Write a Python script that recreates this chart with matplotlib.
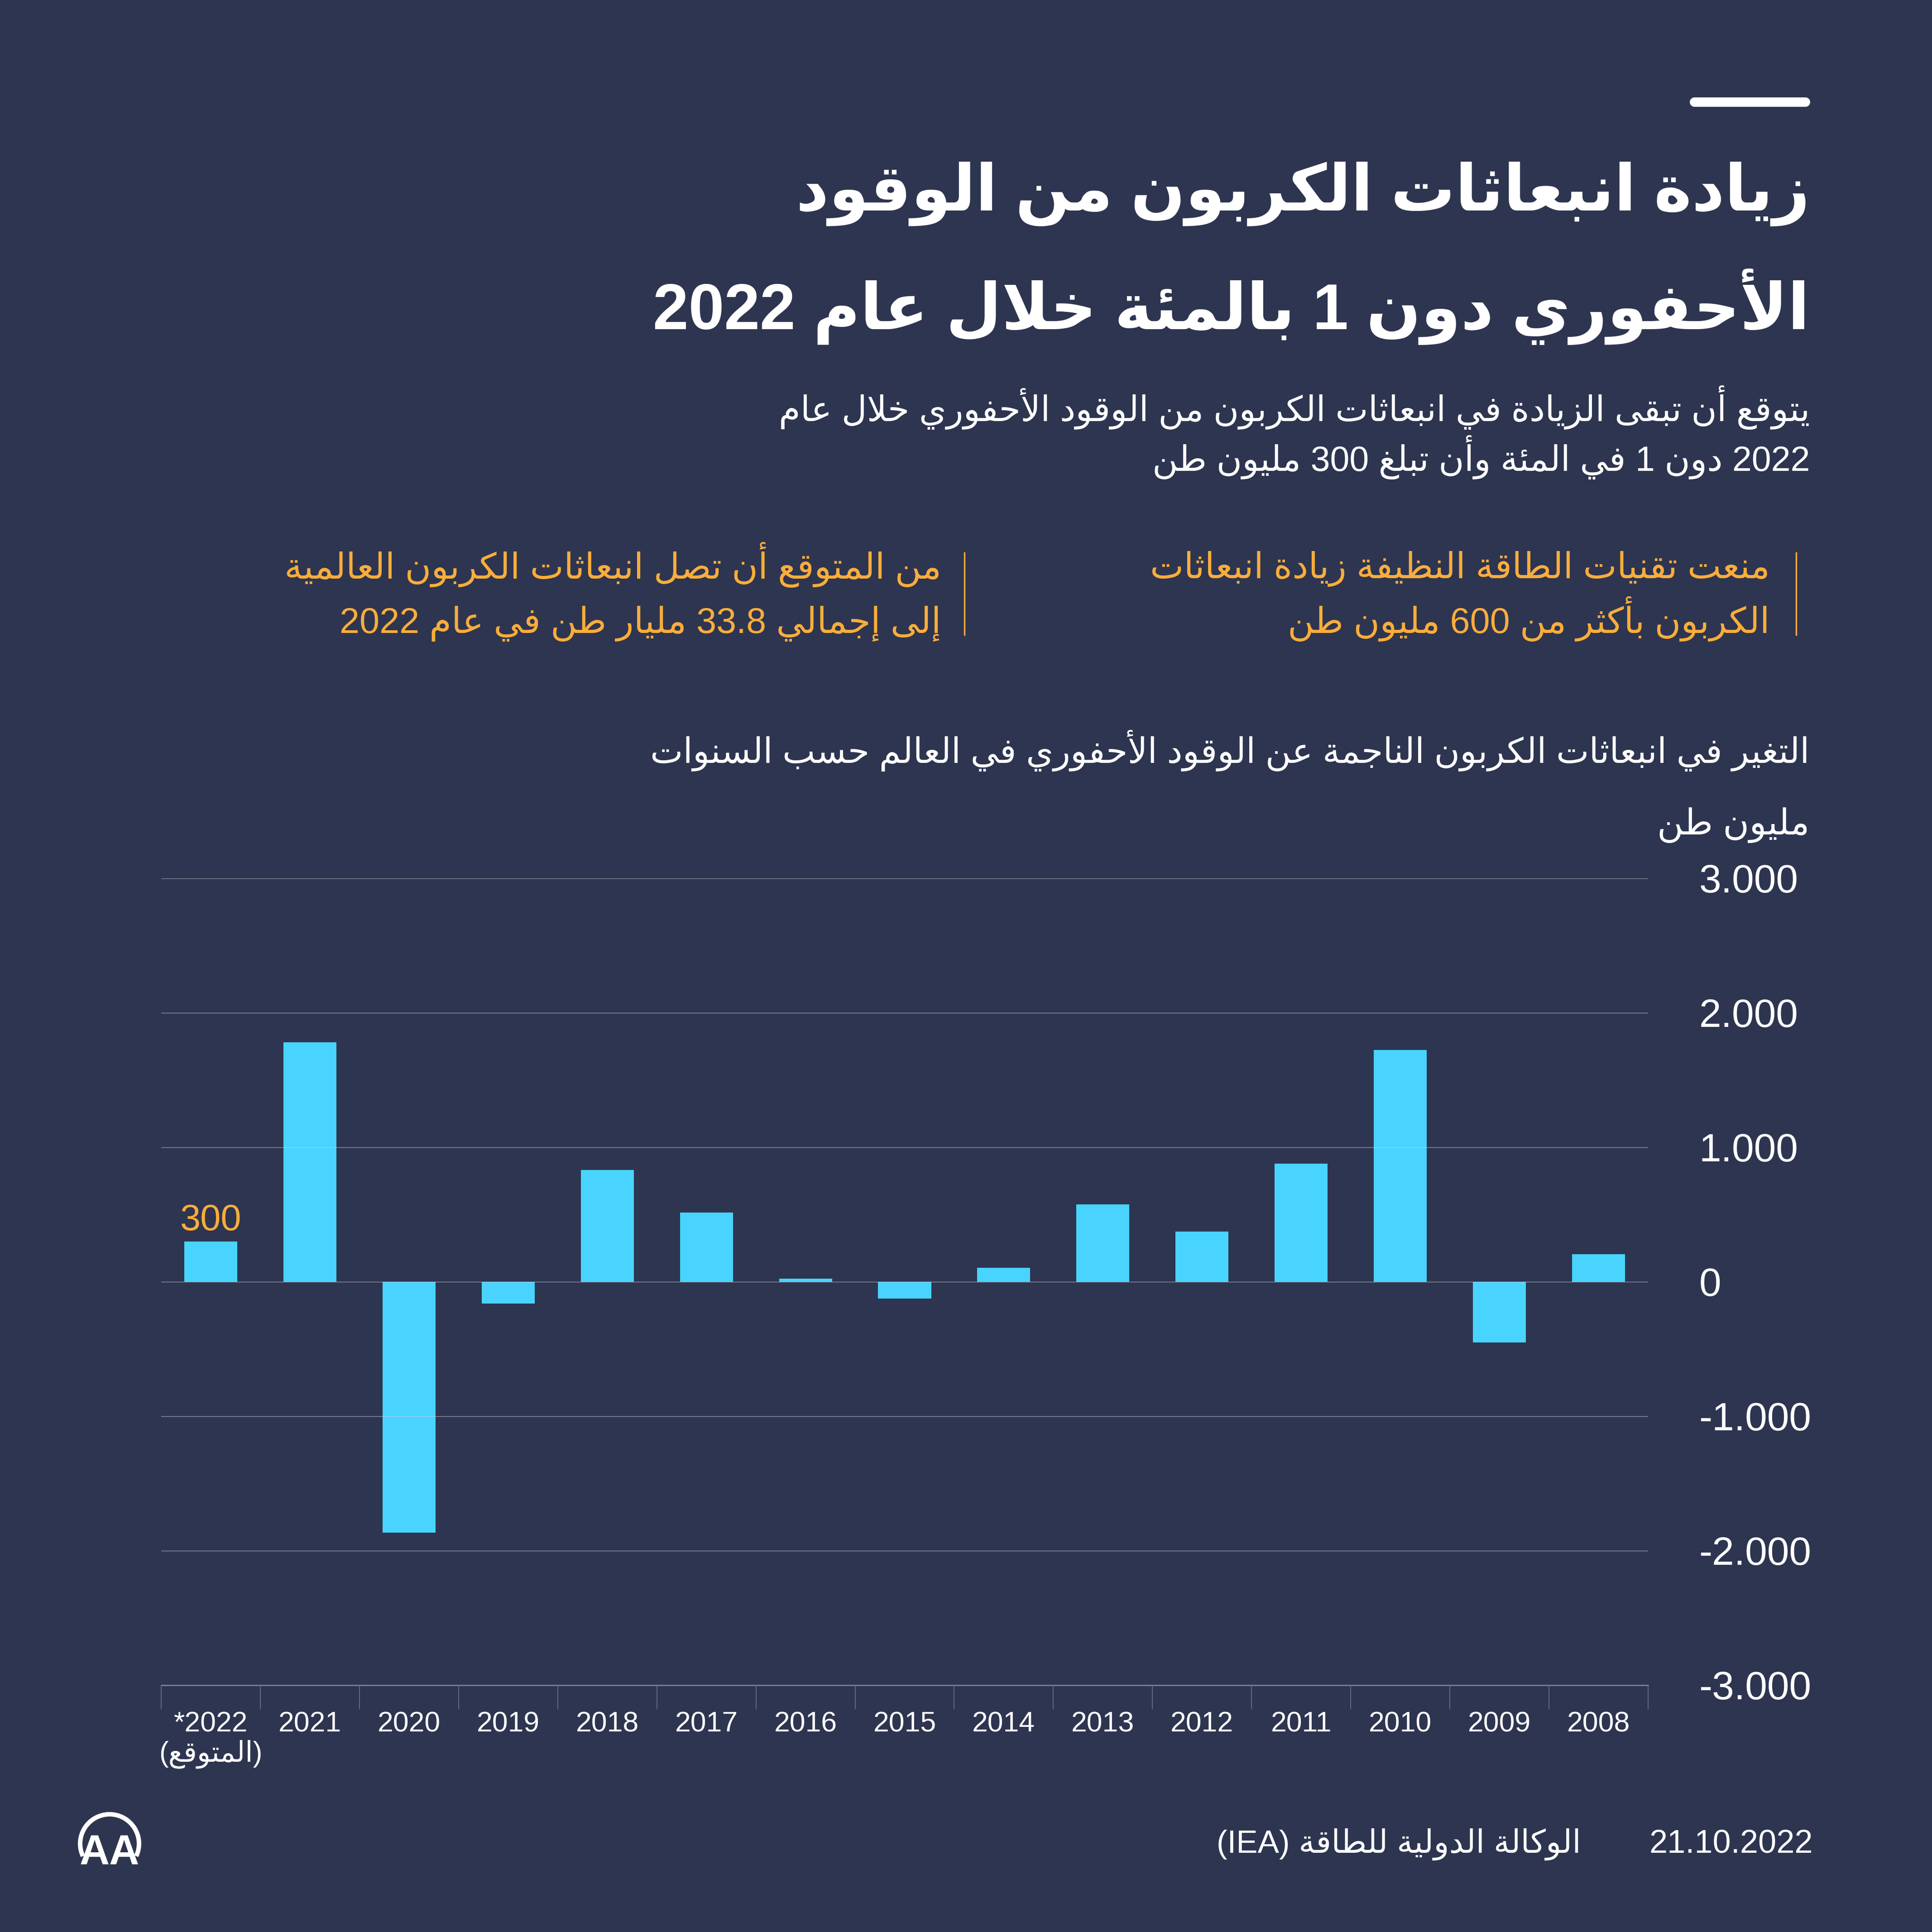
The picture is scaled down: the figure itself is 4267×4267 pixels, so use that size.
import re
import numpy as np
import matplotlib
matplotlib.use("Agg")
import matplotlib.pyplot as plt
from matplotlib.lines import Line2D
from matplotlib.patches import Arc

# chart data (million tonnes CO2, change vs previous year)
years = ["*2022", "2021", "2020", "2019", "2018", "2017", "2016", "2015",
         "2014", "2013", "2012", "2011", "2010", "2009", "2008"]
changes = [300, 1780, -1865, -160, 830, 515, 25, -125,
           105, 575, 375, 880, 1725, -450, 205]
yticks = [-3000, -2000, -1000, 0, 1000, 2000, 3000]
ytick_labels = ["-3.000", "-2.000", "-1.000", "0", "1.000", "2.000", "3.000"]

title_lines = ["زيادة انبعاثات الكربون من الوقود",
               "الأحفوري دون 1 بالمئة خلال عام 2022"]
subtitle_lines = ["يتوقع أن تبقى الزيادة في انبعاثات الكربون من الوقود الأحفوري خلال عام",
                  "2022 دون 1 في المئة وأن تبلغ 300 مليون طن"]
note_right = ["منعت تقنيات الطاقة النظيفة زيادة انبعاثات",
              "الكربون بأكثر من 600 مليون طن"]
note_left = ["من المتوقع أن تصل انبعاثات الكربون العالمية",
             "إلى إجمالي 33.8 مليار طن في عام 2022"]
chart_title = "التغير في انبعاثات الكربون الناجمة عن الوقود الأحفوري في العالم حسب السنوات"
unit_label = "مليون طن"
forecast_label = "(المتوقع)"
highlight = "300"
source = "الوكالة الدولية للطاقة (IEA)"
date = "21.10.2022"

BG = "#2e3550"
BAR = "#48d4fe"
ORANGE = "#f9ad3b"
WHITE = "#ffffff"

# --- tiny arabic shaper (matplotlib has no text shaping / bidi) ---
letters = "ءآأؤإئابةتثجحخدذرزسشصضطظعغفقكلمنهوىي"
counts = [1, 2, 2, 2, 2, 4, 2, 4, 2, 4, 4, 4, 4, 4, 2, 2, 2, 2,
          4, 4, 4, 4, 4, 4, 4, 4, 4, 4, 4, 4, 4, 4, 4, 2, 2, 4]
FORMS = {}
cp = 0xFE80
for ch, n in zip(letters, counts):
    FORMS[ch] = tuple(range(cp, cp + n))
    cp += n
LAM_ALEF = {"آ": 0xFEF5, "أ": 0xFEF7, "إ": 0xFEF9, "ا": 0xFEFB}


def jtype(t):
    if isinstance(t, tuple):
        return "R"
    return {4: "D", 2: "R"}.get(len(FORMS.get(t, ())))


def shape_ar(text):
    toks = []
    i = 0
    while i < len(text):
        if text[i] == "ل" and i + 1 < len(text) and text[i + 1] in LAM_ALEF:
            toks.append(("LA", text[i + 1]))
            i += 2
        else:
            toks.append(text[i])
            i += 1
    out = []
    for k, t in enumerate(toks):
        prev_j = k > 0 and jtype(toks[k - 1]) == "D"
        if isinstance(t, tuple):
            out.append(chr(LAM_ALEF[t[1]] + (1 if prev_j else 0)))
            continue
        jt = jtype(t)
        if jt is None:
            out.append(t)
            continue
        next_j = jt == "D" and k + 1 < len(toks) and jtype(toks[k + 1]) in ("D", "R")
        f = FORMS[t]
        if prev_j and next_j:
            out.append(chr(f[3]))
        elif prev_j:
            out.append(chr(f[1]))
        elif next_j:
            out.append(chr(f[2]))
        else:
            out.append(chr(f[0]))
    return "".join(out)


LTR = re.compile(r"([0-9A-Za-z]+(?:[.,][0-9A-Za-z]+)*)")
MIRROR = str.maketrans("()", ")(")


def ar(text):
    parts = LTR.split(shape_ar(text))
    toks = [p if j % 2 else p[::-1].translate(MIRROR) for j, p in enumerate(parts)]
    return "".join(reversed(toks))


FONT = ["Liberation Sans", "DejaVu Sans"]
W = 4267
DPI = 300


def fx(px):
    return px / W


def fy(px):
    return 1 - px / W


fig = plt.figure(figsize=(W / DPI, W / DPI), dpi=DPI, facecolor=BG)

# header
fig.add_artist(Line2D([fx(3742), fx(3987)], [fy(225), fy(225)], lw=5, color=WHITE,
                      solid_capstyle="round", transform=fig.transFigure))
for line, base in zip(title_lines, [465, 727]):
    fig.text(fx(3997), fy(base), ar(line), ha="right", va="baseline", color=WHITE,
             fontsize=34, fontweight="bold", family=FONT)
for line, base in zip(subtitle_lines, [930, 1040]):
    fig.text(fx(3997), fy(base), ar(line), ha="right", va="baseline", color=WHITE,
             fontsize=18.5, family=FONT)

# two orange notes with a bar on their right
for lines, xtext, xbar in [(note_right, 3909, 3967), (note_left, 2079, 2130)]:
    fig.add_artist(Line2D([fx(xbar), fx(xbar)], [fy(1221), fy(1402)], lw=0.8,
                          color=ORANGE, transform=fig.transFigure))
    for line, base in zip(lines, [1277, 1398]):
        fig.text(fx(xtext), fy(base), ar(line), ha="right", va="baseline",
                 color=ORANGE, fontsize=19, family=FONT)

fig.text(fx(3997), fy(1685), ar(chart_title), ha="right", va="baseline",
         color=WHITE, fontsize=18.5, family=FONT)
fig.text(fx(3997), fy(1843), ar(unit_label), ha="right", va="baseline",
         color=WHITE, fontsize=19, family=FONT)

# bar chart
ax = fig.add_axes([fx(356), fy(3722), fx(3640 - 356), (3722 - 1940) / W])
ax.set_facecolor(BG)
x = np.arange(len(years))
ax.bar(x, changes, width=0.535, color=BAR, zorder=2)
ax.set_xlim(-0.5, len(years) - 0.5)
ax.set_ylim(yticks[0], yticks[-1])
ax.set_yticks(yticks)
ax.set_yticklabels(ytick_labels)
ax.yaxis.tick_right()
ax.tick_params(axis="y", length=0, pad=27, labelsize=21, labelcolor=WHITE)
ax.grid(axis="y", color="#d0d2d8", alpha=0.6, linewidth=0.35, zorder=3)
ax.set_axisbelow(False)
for s in ["top", "left", "right"]:
    ax.spines[s].set_visible(False)
ax.spines["bottom"].set_color("#80859a")
ax.spines["bottom"].set_linewidth(0.6)

labels = list(years)
labels[0] = years[0] + "\n" + ar(forecast_label)
ax.set_xticks(x)
ax.set_xticklabels(labels, linespacing=1.1)
ax.set_xticks(np.arange(-0.5, len(years), 1), minor=True)
ax.tick_params(axis="x", which="major", length=0, pad=13.5, labelsize=15,
               labelcolor=WHITE)
ax.tick_params(axis="x", which="minor", length=12.7, width=0.4, color="#6e7488")
for lab in ax.get_xticklabels() + ax.get_yticklabels():
    lab.set_family(FONT)

ax.annotate(highlight, xy=(0, changes[0]), xytext=(0, 6), textcoords="offset points",
            ha="center", va="baseline", color=ORANGE, fontsize=19.5, family=FONT)

# footer
fig.text(fx(4004), fy(4092), date, ha="right", va="baseline", color=WHITE,
         fontsize=17.3, family=FONT)
fig.text(fx(3492), fy(4092), ar(source), ha="right", va="baseline", color=WHITE,
         fontsize=17, family=FONT)
fig.add_artist(Arc((fx(242), fy(4072)), 130 / W, 130 / W, theta1=-25, theta2=205,
                   lw=2.4, color=WHITE, transform=fig.transFigure))
fig.text(fx(242), fy(4118), "AA", ha="center", va="baseline", color=WHITE,
         fontsize=22, fontweight="bold", family=FONT)

fig.savefig("out.png", dpi=DPI, facecolor=BG)
